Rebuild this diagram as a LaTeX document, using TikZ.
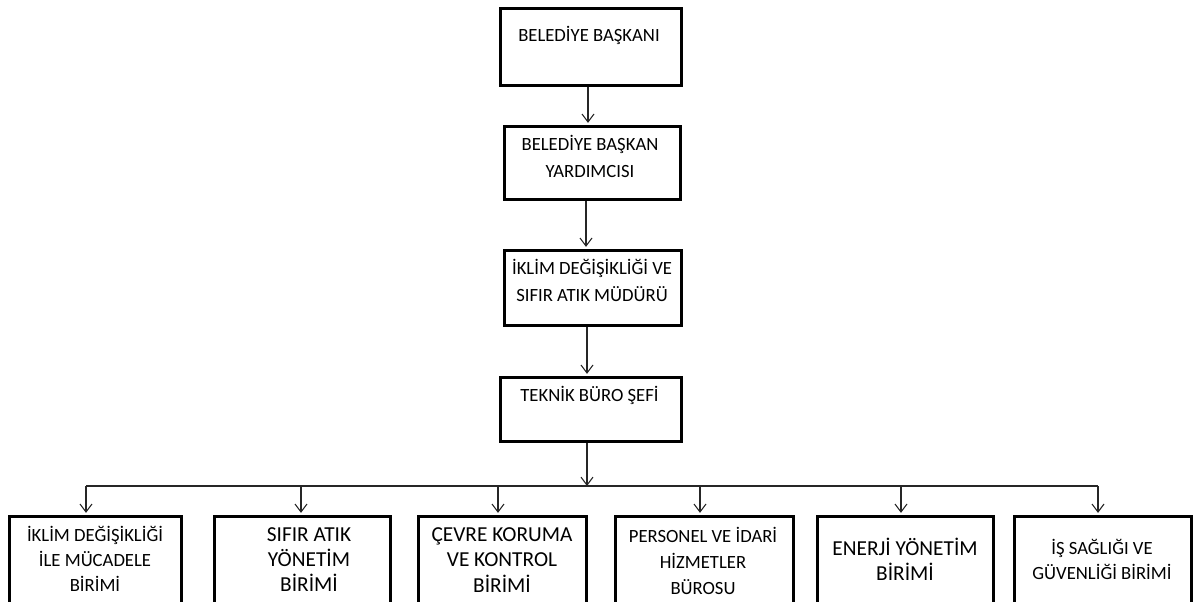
\documentclass[tikz,border=0pt]{standalone}
\usepackage{fontspec}
\setmainfont{Carlito}
\usetikzlibrary{arrows.meta}
\tikzset{
  box/.style={draw=black, line width=2.6pt, rectangle, inner sep=0pt},
  txt/.style={align=center, inner sep=0pt, text=black, font=\fontsize{14pt}{20.25pt}\selectfont},
  ctxt/.style={align=center, inner sep=0pt, text=black, font=\fontsize{14pt}{18.6pt}\selectfont},
  btxt/.style={align=center, inner sep=0pt, text=black, font=\fontsize{16pt}{19pt}\selectfont},
  arr/.style={draw=black!85, line width=0.8pt, -{Straight Barb[length=6pt,width=9pt]}, shorten >=1.6pt},
  bus/.style={draw=black!85, line width=0.8pt}
}
\newcommand\mkbox[5]{\node[box, minimum width=#4*0.75pt, minimum height=#5*0.75pt] (#1) at (#2,#3) {};}
\begin{document}
\begin{tikzpicture}[x=0.75pt,y=-0.75pt]
\clip (0,0) rectangle (1202,601);
\fill[white] (0,0) rectangle (1202,601);
% top chain
\mkbox{b1}{591}{47}{180.5}{76.5}
\mkbox{b2}{592.5}{163}{175.5}{72.5}
\mkbox{b3}{593}{288}{176.5}{74.5}
\mkbox{b4}{591}{409.5}{180.5}{63.5}
\node[txt] (t1) at (589,35.5) {BELED\.{I}YE BAŞKANI};
\node[txt] (t2) at (590,156) {BELED\.{I}YE BAŞKAN\\YARDIMCISI};
\node[txt] (t3) at (592,280.5) {\.{I}KL\.{I}M DEĞ\.{I}Ş\.{I}KL\.{I}Ğ\.{I} VE\\SIFIR ATIK MÜDÜRÜ};
\node[txt] (t4) at (589.5,395) {TEKN\.{I}K BÜRO ŞEF\.{I}};
% children
\mkbox{c1}{95.5}{577.5}{171.5}{121.5}
\mkbox{c2}{302.5}{577.5}{175.5}{121.5}
\mkbox{c3}{502.5}{577.5}{167.5}{121.5}
\mkbox{c4}{704.5}{577.5}{177.5}{121.5}
\mkbox{c5}{905.5}{577.5}{175.5}{121.5}
\mkbox{c6}{1103}{577.5}{176.5}{121.5}
\node[ctxt] (d1) at (95,559) {\.{I}KL\.{I}M DEĞ\.{I}Ş\.{I}KL\.{I}Ğ\.{I}\\\.{I}LE MÜCADELE\\B\.{I}R\.{I}M\.{I}};
\node[btxt] (d2) at (309,559.5) {SIFIR ATIK\\YÖNET\.{I}M\\B\.{I}R\.{I}M\.{I}};
\node[btxt] (d3) at (502,560) {ÇEVRE KORUMA\\VE KONTROL\\B\.{I}R\.{I}M\.{I}};
\node[ctxt, font=\fontsize{14pt}{19.5pt}\selectfont] (d4) at (703,561) {PERSONEL VE \.{I}DAR\.{I}\\H\.{I}ZMETLER\\BÜROSU};
\node[btxt] (d5) at (905,559.5) {ENERJ\.{I} YÖNET\.{I}M\\B\.{I}R\.{I}M\.{I}};
\node[ctxt] (d6) at (1102,559.5) {\.{I}Ş SAĞLIĞI VE\\GÜVENL\.{I}Ğ\.{I} B\.{I}R\.{I}M\.{I}};
% connectors
\coordinate (x1) at (588,0);
\coordinate (x2) at (586,0);
\coordinate (x3) at (587,0);
\draw[arr] (b1.south -| x1) -- (b2.north -| x1);
\draw[arr] (b2.south -| x2) -- (b3.north -| x2);
\draw[arr] (b3.south -| x3) -- (b4.north -| x3);
\coordinate (hub) at (587,486);
\draw[arr, shorten >=0pt] (b4.south -| hub) -- (hub);
\coordinate (p1) at (86,486);
\coordinate (p2) at (301,486);
\coordinate (p3) at (498,486);
\coordinate (p4) at (700,486);
\coordinate (p5) at (901,486);
\coordinate (p6) at (1098,486);
\draw[bus] (p1) -- (p6);
\draw[arr] (p1) -- (p1 |- c1.north);
\draw[arr] (p2) -- (p2 |- c2.north);
\draw[arr] (p3) -- (p3 |- c3.north);
\draw[arr] (p4) -- (p4 |- c4.north);
\draw[arr] (p5) -- (p5 |- c5.north);
\draw[arr] (p6) -- (p6 |- c6.north);
\end{tikzpicture}
\end{document}
